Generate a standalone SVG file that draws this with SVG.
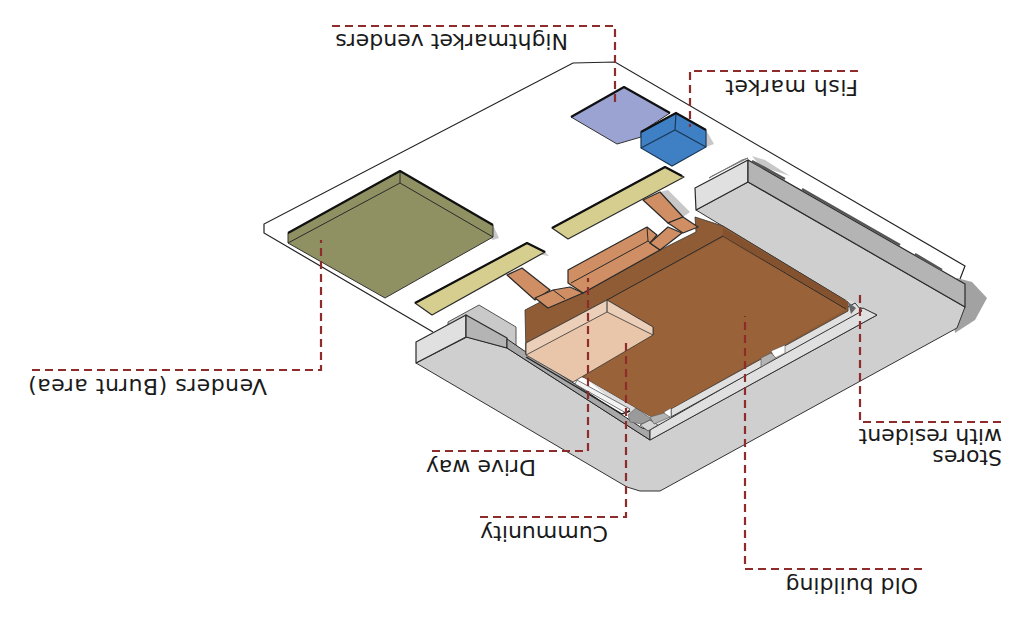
<svg xmlns="http://www.w3.org/2000/svg" width="1030" height="619" viewBox="0 0 1030 619">
<style>
.o{stroke:#2a2a2a;stroke-width:1.2;stroke-linejoin:round}
.h{fill:none;stroke:#111;stroke-width:2.2;stroke-linejoin:round}
.n{fill:none;stroke:#2a2a2a;stroke-width:1}
.s{fill:#c8c8c8;stroke:none}
.g1{fill:#cfcfcf}.g2{fill:#e0e0e0}.g3{fill:#b4b4b4}
.b{fill:#cf8e63}
.y{fill:#d6ce8f}
.l{fill:none;stroke:#8e2b2b;stroke-width:2.2;stroke-dasharray:8 5}
text{font-family:"DejaVu Sans",sans-serif;font-size:22px;fill:#1a1a1a}
</style>
<rect width="1030" height="619" fill="#fff"/>
<g id="ground-plate">
<path d="M433,332L264,233L264,224L573,63L615,62L965,266L960,279" fill="none" stroke="#222" stroke-width="1.2"/>
</g>
<g id="venders-burnt-area">
<path class="s" d="M400,171L493,225L499,238L493,240L400,185Z"/>
<path d="M288,233L400,171L493,225L493,237L385,298L288,243Z" fill="#8f9163" stroke="#333" stroke-width="1"/>
<path class="n" d="M288,243L400,183L493,237M400,171V183"/>
<path class="h" d="M288,233L400,171L493,225"/>
</g>
<g id="strip-left">
<path class="s" d="M527,243L545,252L549,256L536,254Z"/>
<path class="y o" d="M415,303L527,243L545,252L432,315Z"/>
<path class="h" d="M415,303L527,243L545,252"/>
</g>
<g id="strip-right">
<path class="y o" d="M552,228L665,167L684,177L568,239Z"/>
<path class="h" d="M552,228L665,167L682,176"/>
</g>
<g id="nightmarket-venders">
<path d="M571,117L624,87L670,113L641,132L641,137L617,144Z" fill="#9ba3d2" stroke="#333"/>
<path class="h" d="M571,117L624,87L670,113"/>
</g>
<g id="fish-market">
<path class="s" d="M706,130L714,144L706,147Z"/>
<path d="M641,132L676,113L706,130V147L672,166L641,148Z" fill="#3f80c4" stroke="#1b3858" stroke-width="1.2"/>
<path fill="none" stroke="#1b3858" stroke-width="1.2" d="M641,148L675,130L706,147M675,130L676,113"/>
<path fill="none" stroke="#111" stroke-width="2.2" d="M641,132L676,113L706,130"/>
</g>
<g id="grey-building">
<path class="s" d="M752,156L765,160L790,176L760,166Z"/>
<path fill="#a2a2a2" d="M957,278L972,282L987,298L975,320L955,333L950,300Z"/>
<path fill="#c9c9c9" stroke="#555" stroke-width="1" d="M448,322L479,305L516,327V345L448,330Z"/>
<path class="g1" stroke="#333" d="M416,363L627,487L640,491L660,491L957,328L965,307L748,182L696,210L850,303L877,315L650,440L507,348L467,337Z"/>
<path fill="#dcdcdc" d="M525,352L585,378L650,432L862,306L850,300L700,300Z"/>
<path class="g2 o" d="M416,363V342L466,315V337Z"/>
<path class="g3 o" d="M466,315L507,338V348L466,337Z"/>
<path class="g2 o" d="M696,210L695,188L748,160V182Z"/>
<path class="g3 o" d="M748,160L965,284V307L748,182Z"/>
<path fill="none" stroke="#555" stroke-width="2.4" d="M752,161L785,179M802,189L900,245M915,254L942,270"/>
<path fill="#bcbcbc" stroke="#777" d="M709,178L742,160L748,158L712,176Z"/>
<path fill="#a8a8a8" stroke="#222" d="M507,348V339L523,350L642,428L650,430V440Z"/>
<path fill="#f4f4f4" stroke="#555" stroke-width=".8" d="M577,380L630,409L626,413L575,384Z"/>
<path fill="none" stroke="#222" stroke-width="1.4" d="M526,357L622,414L630,411"/>
<path class="g2" stroke="#333" d="M650,440V430L863,308L877,315Z"/>
<path class="g2" stroke="#333" d="M671,417V407L855,303L862,311Z"/>
<path fill="#9a9a9a" stroke="#666" stroke-width=".7" d="M628,415L636,408L650,418L656,426L642,424L630,422Z"/>
<path fill="#d4d4d4" stroke="#444" stroke-width=".8" d="M640,425L650,420L658,425L648,431Z"/>
<path fill="#666" d="M848,302L856,308L851,314Z"/>
</g>
<g id="old-building">
<path fill="#8f5c36" stroke="#333" stroke-width=".8" d="M525,310L548,298L583,293L660,250L696,232L695,217L723,226L848,302L848,311L660,415Q655,418,650,416L585,378L526,354Z"/>
<path fill="#9a6238" d="M723,238L846,309L660,415Q655,418,650,416L585,378L607,300Z"/>
<path class="n" d="M607,300L723,236L846,309"/>
<path fill="#85522f" d="M723,228L848,302V309L723,236Z"/>
<path fill="#fff" stroke="#555" stroke-width=".6" d="M771,351L785,345V353L775,358Z"/>
<path class="g3" stroke="#555" stroke-width=".6" d="M761,358L771,353L776,358L761,367Z"/>
<path fill="#fff" stroke="#555" stroke-width=".6" d="M664,412L671,408V417L666,418Z"/>
<path class="g3" stroke="#555" stroke-width=".6" d="M650,417L664,413L670,417L654,424Z"/>
</g>
<g id="drive-way">
<path class="b o" d="M507,275L522,268L550,290L535,300Z"/>
<path class="b o" d="M535,298L553,290L570,287L583,293L548,308Z"/>
<path class="n" d="M553,290L565,299"/>
<path class="b o" d="M568,270L647,227L657,235L650,243L660,250L583,293L568,283Z"/>
<path class="n" d="M571,283L648,241L660,250M647,227L648,241"/>
<path class="s" d="M660,192L683,217L690,212L668,190Z"/>
<path class="b o" d="M643,200L660,192L683,217L668,223Z"/>
<path class="b o" d="M668,223L683,217L698,227L683,233Z"/>
<path class="b o" d="M650,243L668,227L682,233L660,250Z"/>
</g>
<g id="cummunity">
<path fill="#e9c6aa" stroke="#333" stroke-width=".8" d="M526,343L607,300L653,327V335L573,382L526,355Z"/>
<path fill="#eccfb8" stroke="#333" stroke-width=".8" d="M526,343L607,300L653,327V335L607,312L526,355Z"/>
<path class="n" d="M607,300V312"/>
</g>
<g id="connectors">
<path class="l" d="M332,26H615V107"/>
<path class="l" d="M858,71H690V127"/>
<path class="l" d="M32,370H321V240"/>
<path class="l" d="M432,451H588V278"/>
<path class="l" d="M480,517H626V340"/>
<path class="l" d="M922,569H745V316"/>
<path class="l" d="M1001,422H860V293"/>
</g>
<g id="labels">
<text transform="rotate(180 568 34)" x="568" y="34">Nightmarket venders</text>
<text transform="rotate(180 858 80)" x="858" y="80" letter-spacing=".5">Fish market</text>
<text transform="rotate(180 267 379)" x="267" y="379" letter-spacing=".5">Venders (Burnt area)</text>
<text transform="rotate(180 536 460)" x="536" y="460">Drive way</text>
<text transform="rotate(180 608 526)" x="608" y="526">Cummunity</text>
<text transform="rotate(180 918 578)" x="918" y="578">Old building</text>
<text transform="rotate(180 1002 429)" x="1002" y="429">with resident</text>
<text transform="rotate(180 1002 450)" x="1002" y="450">Stores</text>
</g>
</svg>
